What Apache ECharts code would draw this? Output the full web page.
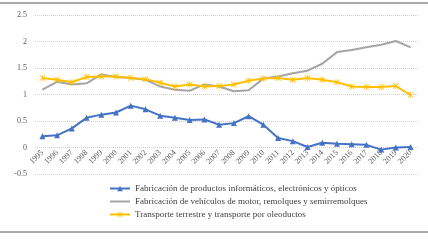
<!DOCTYPE html>
<html>
<head>
<meta charset="utf-8">
<script src="https://cdn.jsdelivr.net/npm/echarts@6/dist/echarts.min.js"></script>
<style>
    html, body { margin: 0; padding: 0; background: #fff; }
    #chart { width: 428px; height: 240px; }
</style>
</head>
<body>
<div id="chart"></div>
<script>
const years = ['1995','1996','1997','1998','1999','2000','2001','2002','2003','2004','2005','2006','2007',
    '2008','2009','2010','2011','2012','2013','2014','2015','2016','2017','2018','2019','2020'];

const informaticos = [0.21, 0.23, 0.36, 0.56, 0.62, 0.66, 0.79, 0.72, 0.60, 0.56, 0.52, 0.53, 0.43,
    0.46, 0.59, 0.43, 0.18, 0.12, 0.01, 0.09, 0.07, 0.06, 0.05, -0.04, 0.0, 0.01];

const vehiculos = [1.09, 1.24, 1.19, 1.21, 1.38, 1.33, 1.31, 1.28, 1.15, 1.09, 1.07, 1.19, 1.15,
    1.06, 1.08, 1.30, 1.34, 1.40, 1.45, 1.58, 1.80, 1.84, 1.89, 1.94, 2.01, 1.89];

const transporte = [1.31, 1.28, 1.23, 1.33, 1.34, 1.34, 1.31, 1.29, 1.22, 1.15, 1.19, 1.15, 1.16,
    1.19, 1.26, 1.30, 1.31, 1.28, 1.31, 1.28, 1.23, 1.15, 1.14, 1.14, 1.16, 0.99];

const names = [
    'Fabricación de productos informáticos, electrónicos y ópticos',
    'Fabricación de vehículos de motor, remolques y semirremolques',
    'Transporte terrestre y transporte por oleoductos'
];

// asterisco tipo Excel
const STAR = 'path://M4.4,0L5.6,0L5.6,10L4.4,10Z M0,0.9L0.9,0L10,9.1L9.1,10Z M9.1,0L10,0.9L0.9,10L0,9.1Z';
const FONT = '"Liberation Serif", "DejaVu Serif", serif';

// alto del grid 159px para 3 unidades -> el cero queda 26.5px por encima del borde inferior
const GRID_H = 159;

const option = {
    animation: false,
    color: ['#4472C4', '#A5A5A5', '#FFC000'],
    textStyle: { fontFamily: FONT },
    grid: {
        left: 35,
        width: 383,
        top: 15,
        height: GRID_H,
        outerBoundsMode: 'none',
        containLabel: false,
    },
    legend: {
        orient: 'vertical',
        left: 104,
        top: 179,
        itemWidth: 20,
        itemHeight: 7,
        itemGap: 4,
        textStyle: {
            fontFamily: FONT,
            fontSize: 9,
            color: '#404040',
        },
        data: [
            { name: names[0] },
            { name: names[1], itemStyle: { opacity: 0 } },
            { name: names[2] },
        ],
    },
    xAxis: {
        type: 'category',
        data: years,
        boundaryGap: true,
        offset: -GRID_H / 6,
        axisLine: {
            show: false,
            onZero: false,
        },
        axisTick: { show: false },
        axisLabel: {
            rotate: 45,
            fontSize: 8,
            color: '#595959',
            fontFamily: FONT,
            margin: 4,
            interval: 0,
        },
    },
    yAxis: {
        type: 'value',
        min: -0.5,
        max: 2.5,
        interval: 0.5,
        axisLine: { show: false },
        axisTick: { show: false },
        axisLabel: {
            fontSize: 8,
            color: '#595959',
            fontFamily: FONT,
            margin: 8,
        },
        splitLine: {
            lineStyle: {
                color: '#d0d0d0',
                type: 'dotted',
                width: 1,
            }
        },
    },
    graphic: [
        {
            type: 'line',
            shape: { x1: 0, y1: 3, x2: 428, y2: 3 },
            style: { stroke: '#595959', lineWidth: 1 },
        },
        {
            type: 'line',
            shape: { x1: 0, y1: 232, x2: 428, y2: 232 },
            style: { stroke: '#595959', lineWidth: 1 },
        },
    ],
    series: [
        {
            name: names[0],
            type: 'line',
            data: informaticos,
            symbol: 'triangle',
            symbolSize: 6,
            lineStyle: { width: 2 },
        },
        {
            name: names[1],
            type: 'line',
            data: vehiculos,
            symbol: 'none',
            lineStyle: { width: 2 },
        },
        {
            name: names[2],
            type: 'line',
            data: transporte,
            symbol: STAR,
            symbolSize: 6,
            lineStyle: { width: 2 },
        },
    ]
};

const chart = echarts.init(document.getElementById('chart'));
chart.setOption(option);
</script>
</body>
</html>
